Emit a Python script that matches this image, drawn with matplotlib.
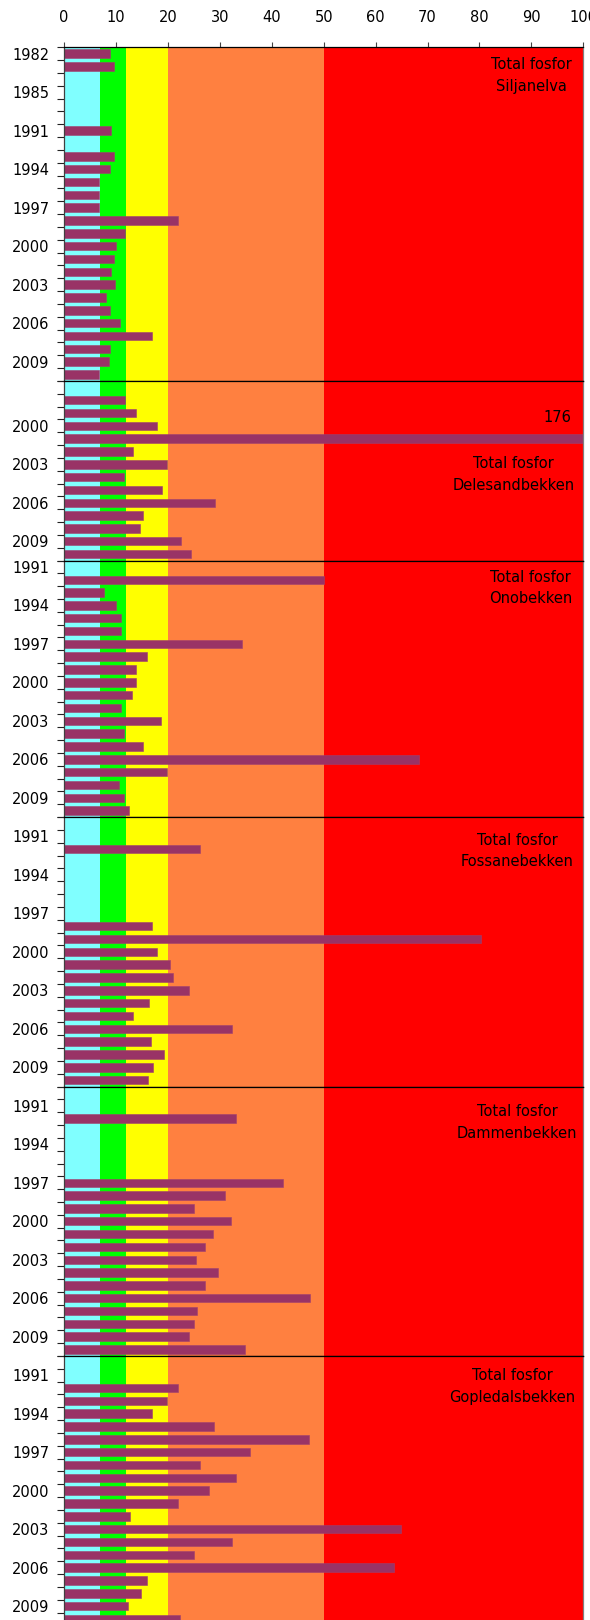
import numpy as np
import matplotlib.pyplot as plt

plt.rcParams['font.family'] = ['DejaVu Sans']
plt.rcParams['font.size'] = 10.5

nan = np.nan

# tilstandsklasser total fosfor (ug/l) og fargene deres
klasse_grenser = [0, 7, 12, 20, 50, 100]
klasse_farger = ['#80FFFF', '#00FF00', '#FFFF00', '#FF8040', '#FF0000']
x_ticks = [0, 10, 20, 30, 40, 50, 60, 70, 80, 90, 100]

# ------- SILJANELVA -------
silj_aar = [1982, 1983, 1984, 1985, 1986, 1988] + list(range(1991, 2011))
silj_verdi = [8.9, 9.6, nan, nan, nan, nan, 9.0, nan, 9.6, 8.9, 6.8, 6.8, 6.8,
              22.0, 11.8, 10.0, 9.6, 9.0, 9.8, 8.0, 8.9, 10.7, 17.0, 8.9, 8.6, 6.8]
silj_vis = [1982, 1985, 1991, 1994, 1997, 2000, 2003, 2006, 2009]

# ------- DELESANDBEKKEN -------
dele_aar = list(range(1997, 2011))
dele_verdi = [nan, 11.8, 13.9, 18.0, 176, 13.2, 19.9, 11.6, 18.8, 29.1, 15.3, 14.6, 22.5, 24.5]
dele_vis = [2000, 2003, 2006, 2009]

# ------- ONOBEKKEN -------
ono_aar = list(range(1991, 2011))
ono_verdi = [nan, 50.1, 7.7, 10.0, 10.9, 10.9, 34.2, 16.0, 13.9, 13.9, 13.0, 10.9,
             18.7, 11.6, 15.3, 68.4, 19.9, 10.5, 11.6, 12.5]
ono_vis = [1991, 1994, 1997, 2000, 2003, 2006, 2009]

# ------- FOSSANEBEKKEN -------
foss_aar = list(range(1990, 2011))
foss_verdi = [nan, nan, 26.2, nan, nan, nan, nan, nan, 16.9, 80.3, 18.0, 20.4, 21.0,
              24.1, 16.4, 13.2, 32.4, 16.7, 19.3, 17.1, 16.2]
foss_vis = [1991, 1994, 1997, 2000, 2003, 2006, 2009]

# ------- DAMMENBEKKEN -------
dam_aar = list(range(1990, 2011))
dam_verdi = [nan, nan, 33.1, nan, nan, nan, nan, 42.1, 31.0, 25.0, 32.2, 28.7, 27.1,
             25.5, 29.6, 27.1, 47.4, 25.7, 25.0, 24.1, 34.9]
dam_vis = [1991, 1994, 1997, 2000, 2003, 2006, 2009]

# ------- GOPLEDALSBEKKEN -------
gop_aar = list(range(1990, 2011))
gop_verdi = [nan, nan, 22.0, 19.9, 16.9, 28.9, 47.2, 35.8, 26.2, 33.1, 28.0, 22.0,
             12.8, 64.9, 32.4, 25.0, 63.5, 16.0, 14.8, 12.3, 22.4]
gop_vis = [1991, 1994, 1997, 2000, 2003, 2006, 2009]

paneler = [
    ("Siljanelva", silj_aar, silj_verdi, silj_vis, 1.7, 90.0),
    ("Delesandbekken", dele_aar, dele_verdi, dele_vis, 6.8, 86.6),
    ("Onobekken", ono_aar, ono_verdi, ono_vis, 1.65, 89.8),
    ("Fossanebekken", foss_aar, foss_verdi, foss_vis, 2.15, 87.3),
    ("Dammenbekken", dam_aar, dam_verdi, dam_vis, 2.3, 87.3),
    ("Gopledalsbekken", gop_aar, gop_verdi, gop_vis, 1.9, 86.3),
]

W, H = 590, 1620
fig = plt.figure(figsize=(W / 100, H / 100), dpi=100)

venstre, hoyre = 64, 583.3
px_per_aar = 12.83
topp = 47.3

for i, (navn, aar, verdi, vis, tekst_y, tekst_x) in enumerate(paneler):
    n = len(aar)
    hoyde = n * px_per_aar
    ax = fig.add_axes([venstre / W, 1 - (topp + hoyde) / H, (hoyre - venstre) / W, hoyde / H])
    topp += hoyde

    for k in range(len(klasse_farger)):
        ax.axvspan(klasse_grenser[k], klasse_grenser[k + 1], color=klasse_farger[k], lw=0, zorder=0)

    pos = np.arange(n)
    ax.barh(pos, np.minimum(verdi, 100), height=0.66, color='#993366',
            edgecolor='#a0406e', linewidth=0.4, zorder=2)

    # verdier utenfor skalaen skrives som tall
    for p, v in zip(pos, verdi):
        if v > 100:
            ax.text(95.1, p - 1.65, f"{v:g}", ha='center', va='center', fontsize=10.5)

    ax.text(tekst_x, tekst_y, "Total fosfor\n" + navn, ha='center', va='center',
            multialignment='center', linespacing=1.55, fontsize=10.5)

    ax.set_xlim(0, 100)
    ax.set_ylim(n - 0.5, -0.5)

    ax.set_yticks([aar.index(a) for a in vis])
    ax.set_yticklabels([str(a) for a in vis])
    ax.set_yticks(np.arange(n + 1) - 0.5, minor=True)
    ax.tick_params(axis='y', which='major', length=0, pad=10.6, labelsize=10.5)
    ax.tick_params(axis='y', which='minor', length=4.8, width=0.8, color='#222222')

    if i == 0:
        ax.xaxis.tick_top()
        ax.set_xticks(x_ticks)
        ax.tick_params(axis='x', length=3.4, width=0.8, pad=12.5, labelsize=10.5, color='#444444')
    else:
        ax.set_xticks([])

    ax.spines['left'].set_color('#404040')
    ax.spines['right'].set_color('#808080')
    ax.spines['top'].set_color('black')
    ax.spines['bottom'].set_color('black')
    for s in ax.spines.values():
        s.set_linewidth(0.9)
        s.set_zorder(5)

fig.savefig('out.png', dpi=100)
